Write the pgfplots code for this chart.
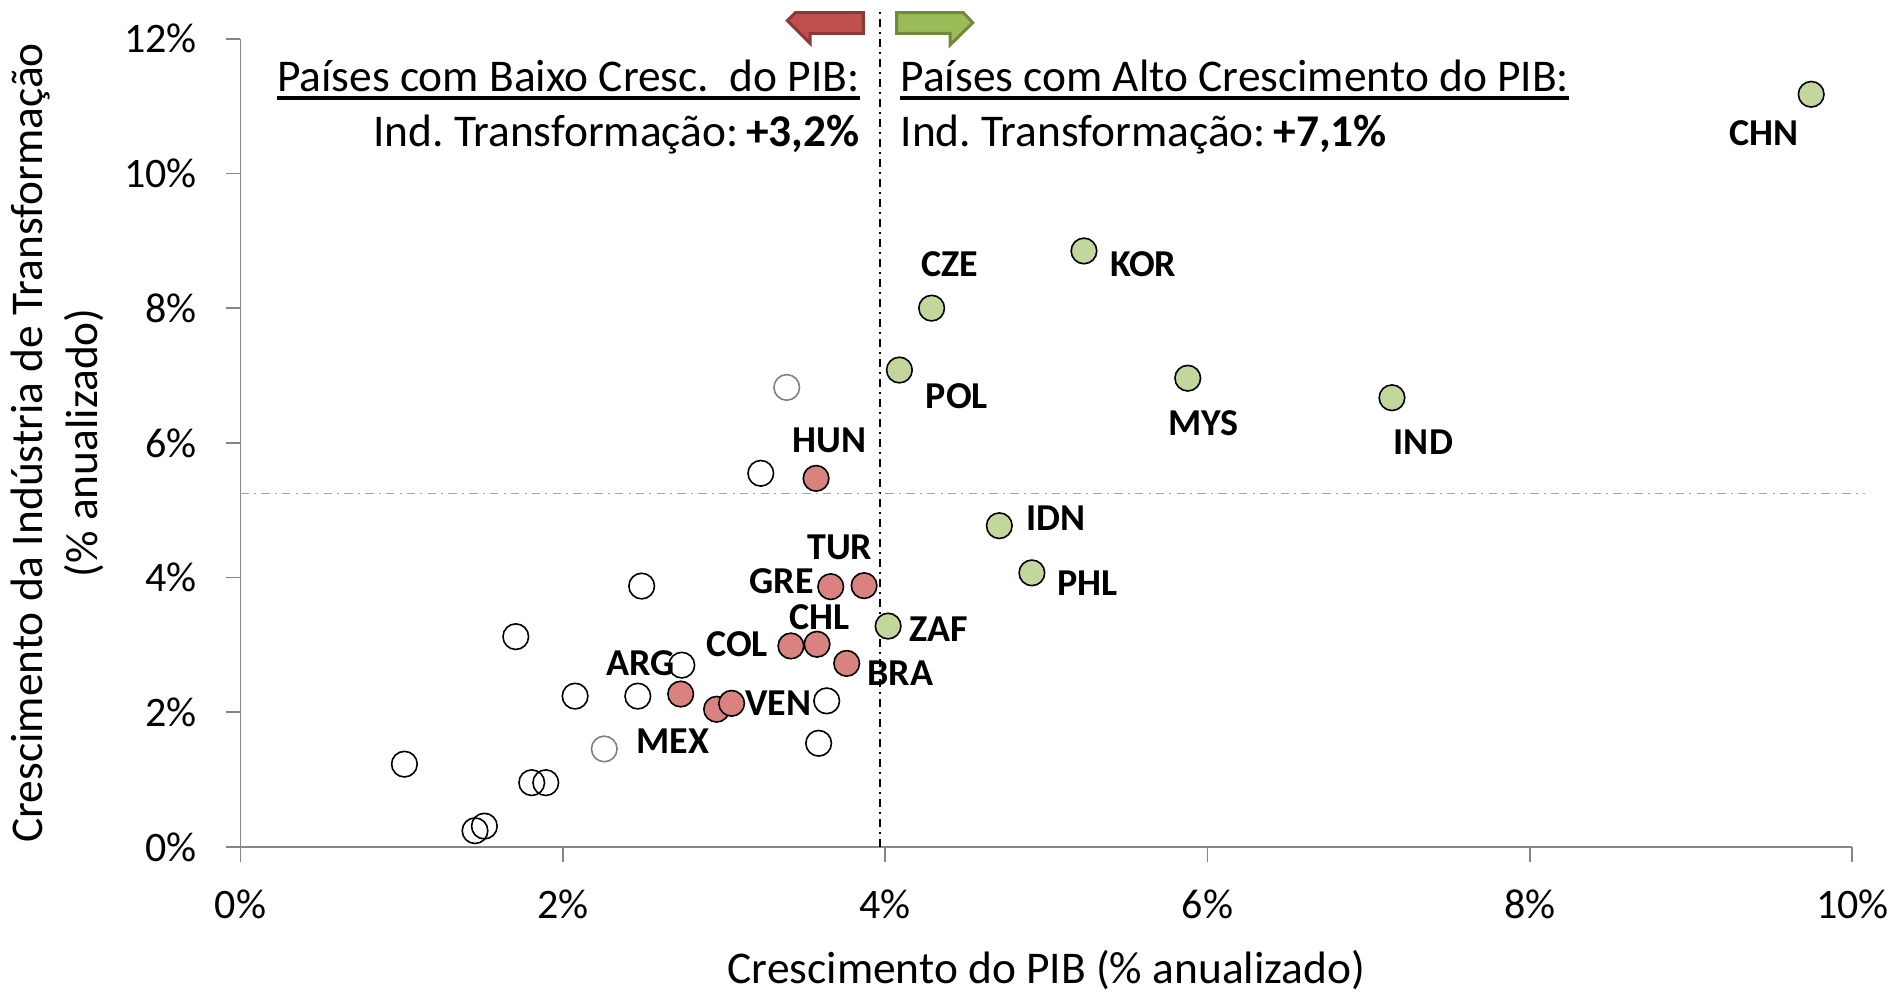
\documentclass[border=0pt]{standalone}
\usepackage{fontspec}
\setmainfont{Carlito}
\usepackage{pgfplots}
\pgfplotsset{compat=1.18}
\frenchspacing
\definecolor{axisgray}{RGB}{134,134,134}
\definecolor{refgray}{RGB}{165,165,165}
\definecolor{openGray}{RGB}{128,128,128}
\definecolor{redfill}{RGB}{217,130,128}
\definecolor{greenfill}{RGB}{195,214,155}
\definecolor{arrred}{RGB}{192,80,77}
\definecolor{arrredd}{RGB}{140,56,54}
\definecolor{arrgreen}{RGB}{155,187,89}
\definecolor{arrgreend}{RGB}{113,137,63}
\begin{document}
\begin{tikzpicture}
\useasboundingbox (-120.25pt,-72.5pt) rectangle (827.25pt,423.5pt);
\begin{axis}[
  scale only axis, width=805.9pt, height=404.15pt,
  xmin=0, xmax=10, ymin=0, ymax=12,
  axis lines*=left,
  axis line style={draw=axisgray, line width=0.9pt, -},
  tick align=outside, major tick length=7.5pt,
  tick style={draw=axisgray, line width=0.9pt},
  xtick={0,2,4,6,8,10}, xticklabels={0\%,2\%,4\%,6\%,8\%,10\%},
  ytick={0,2,4,6,8,10,12}, yticklabels={0\%,2\%,4\%,6\%,8\%,10\%,12\%},
  ticklabel style={font=\fontsize{21}{25}\selectfont},
  xticklabel style={yshift=-10.3pt},
  yticklabel style={xshift=-10.9pt},
  xlabel={Crescimento do PIB (\% anualizado)},
  ylabel={Crescimento da Indústria de Transformação\\(\% anualizado)},
  label style={font=\fontsize{22.7}{27.2}\selectfont},
  xlabel style={at={(axis description cs:0.5,0)}, anchor=center, yshift=-61.5pt},
  ylabel style={at={(axis description cs:-0.1135,0.5)}, anchor=center, align=center},
  clip=false,
]
% reference lines
\addplot[black, line width=0.8pt, dash pattern=on 4pt off 2.5pt on 1pt off 2.5pt] coordinates {(3.967,0) (3.967,12.39)};
\addplot[refgray, line width=0.8pt, dash pattern=on 4.2pt off 2.6pt on 1pt off 2.6pt] coordinates {(0,5.25) (10.08,5.25)};
% open circles
\addplot[only marks, mark=o, mark size=6.4pt, mark options={draw=black, line width=0.8pt}] coordinates {
(3.228,5.548) (2.489,3.874) (1.708,3.123) (2.738,2.700) (2.076,2.240) (2.465,2.240)
(3.637,2.170) (3.587,1.540) (1.017,1.230) (1.807,0.955) (1.894,0.955) (1.455,0.242) (1.513,0.310)};
\addplot[only marks, mark=o, mark size=6.4pt, mark options={draw=openGray, line width=0.8pt}] coordinates {
(3.389,6.823) (2.257,1.456)};
% red (low growth)
\addplot[only marks, mark=*, mark size=6.4pt, mark options={draw=black, fill=redfill, line width=0.8pt}] coordinates {
(3.571,5.473) (3.869,3.880) (3.662,3.865) (3.577,3.010) (3.415,2.985) (3.761,2.726)
(2.731,2.271) (2.954,2.045) (3.047,2.133)};
% green (high growth)
\addplot[only marks, mark=*, mark size=6.4pt, mark options={draw=black, fill=greenfill, line width=0.8pt}] coordinates {
(9.745,11.175) (5.233,8.849) (4.288,8.000) (4.088,7.081) (5.877,6.960) (7.144,6.670)
(4.708,4.770) (4.910,4.070) (4.018,3.280)};
% country labels
\begin{scope}[every node/.style={font=\fontsize{19}{22}\selectfont\bfseries, inner sep=0pt}]
\node at (axis cs:9.453,10.60) {CHN};
\node at (axis cs:5.600,8.646) {KOR};
\node at (axis cs:4.400,8.646) {CZE};
\node at (axis cs:4.445,6.690) {POL};
\node at (axis cs:5.975,6.296) {MYS};
\node at (axis cs:7.339,6.009) {IND};
\node at (axis cs:5.060,4.879) {IDN};
\node at (axis cs:5.255,3.910) {PHL};
\node at (axis cs:4.333,3.229) {ZAF};
\node at (axis cs:3.655,6.045) {HUN};
\node at (axis cs:3.718,4.448) {TUR};
\node at (axis cs:3.358,3.946) {GRE};
\node at (axis cs:3.591,3.408) {CHL};
\node at (axis cs:3.081,3.013) {COL};
\node at (axis cs:4.093,2.583) {BRA};
\node at (axis cs:2.481,2.726) {ARG};
\node at (axis cs:3.336,2.135) {VEN};
\node at (axis cs:2.684,1.578) {MEX};
\end{scope}
% annotations
\begin{scope}[every node/.style={font=\fontsize{22.7}{27}\selectfont, inner sep=0pt}]
\node[anchor=base east] (t1) at (axis cs:3.844,11.22) {Países com Baixo Cresc.\ \ do PIB:};
\draw[line width=2pt] ([yshift=-3.4pt]t1.base west) -- ([yshift=-3.4pt]t1.base east);
\node[anchor=base east] at (axis cs:3.844,10.40) {Ind. Transformação:\,\textbf{+3,2\%}};
\node[anchor=base west] (t2) at (axis cs:4.093,11.22) {Países com Alto Crescimento do PIB:};
\draw[line width=2pt] ([yshift=-3.4pt]t2.base west) -- ([yshift=-3.4pt]t2.base east);
\node[anchor=base west] at (axis cs:4.093,10.40) {Ind. Transformação:\,\textbf{+7,1\%}};
\end{scope}
% arrows
\filldraw[fill=arrred, draw=arrredd, line width=1.5pt, line join=miter]
 (axis cs:3.864,12.386) -- (axis cs:3.864,12.079) -- (axis cs:3.534,12.079) -- (axis cs:3.534,11.932)
 -- (axis cs:3.393,12.267) -- (axis cs:3.442,12.386) -- cycle;
\filldraw[fill=arrgreen, draw=arrgreend, line width=1.5pt, line join=miter]
 (axis cs:4.071,12.386) -- (axis cs:4.485,12.386) -- (axis cs:4.543,12.237) -- (axis cs:4.402,11.906)
 -- (axis cs:4.402,12.079) -- (axis cs:4.071,12.079) -- cycle;
\end{axis}
\end{tikzpicture}
\end{document}
